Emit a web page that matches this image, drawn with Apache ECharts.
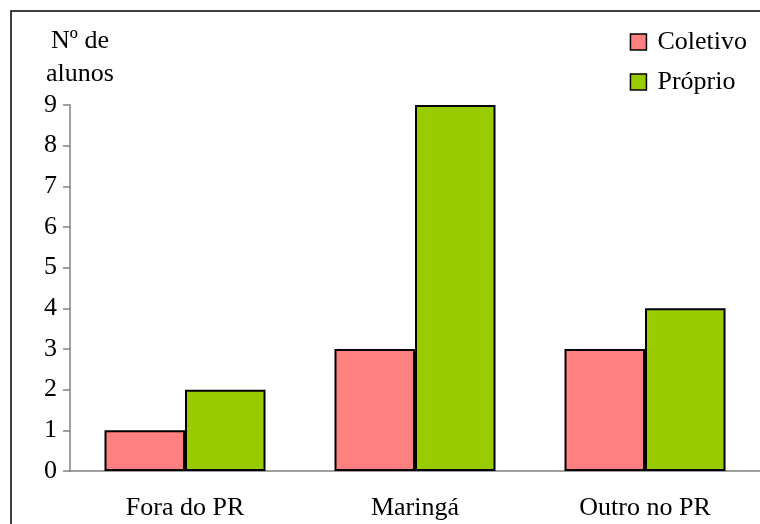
<!DOCTYPE html>
<html>
<head>
<meta charset="utf-8">
<script src="https://cdn.jsdelivr.net/npm/echarts@6/dist/echarts.min.js"></script>
<style>
  html, body { margin: 0; padding: 0; background: #fff; }
  #chart { width: 760px; height: 524px; }
</style>
</head>
<body>
<div id="chart"></div>
<script>
const categories = ['Fora do PR', 'Maringá', 'Outro no PR']
const coletivo = [1, 3, 3]
const proprio = [2, 9, 4]

const font = '"Liberation Serif", "Times New Roman", serif'
const chart = echarts.init(document.getElementById('chart'))

chart.setOption({
  animation: false,
  color: ['#ff8080', '#99cc00'],
  textStyle: { fontFamily: font, color: '#000' },
  grid: { left: 70, top: 105, bottom: 53, width: 696 },
  graphic: [
    {
      type: 'rect',
      shape: { x: 11, y: 11, width: 820, height: 600 },
      style: { fill: 'none', stroke: '#000', lineWidth: 1.5 },
    },
    {
      type: 'text',
      x: 80,
      y: 58,
      style: {
        text: 'Nº de\nalunos',
        font: '26px ' + font,
        fill: '#000',
        align: 'center',
        verticalAlign: 'middle',
        lineHeight: 33,
      },
    },
  ],
  legend: {
    right: 8,
    top: 24,
    padding: 5,
    orient: 'vertical',
    itemWidth: 16,
    itemHeight: 16,
    itemGap: 14,
    icon: 'rect',
    textStyle: { fontFamily: font, fontSize: 26, color: '#000', padding: [0, 0, 0, 6] },
    itemStyle: { borderColor: '#000', borderWidth: 1.5 },
    data: ['Coletivo', 'Próprio'],
  },
  xAxis: {
    type: 'category',
    data: categories,
    axisLine: { lineStyle: { color: '#808080', width: 1.5 } },
    axisTick: { length: 6, lineStyle: { color: '#808080', width: 1.5 } },
    axisLabel: { fontFamily: font, fontSize: 26, color: '#000', margin: 24 },
  },
  yAxis: {
    type: 'value',
    min: 0,
    max: 9,
    interval: 1,
    splitLine: { show: false },
    axisLine: { show: true, lineStyle: { color: '#808080', width: 1.5 } },
    axisTick: { show: true, length: 7, lineStyle: { color: '#808080', width: 1.5 } },
    axisLabel: { fontFamily: font, fontSize: 26, color: '#000', margin: 13 },
  },
  series: [
    {
      name: 'Coletivo',
      type: 'bar',
      data: coletivo,
      barGap: '0%',
      barCategoryGap: '30%',
      itemStyle: { borderColor: '#000', borderWidth: 2 },
    },
    {
      name: 'Próprio',
      type: 'bar',
      data: proprio,
      itemStyle: { borderColor: '#000', borderWidth: 2 },
    },
  ],
})
</script>
</body>
</html>
